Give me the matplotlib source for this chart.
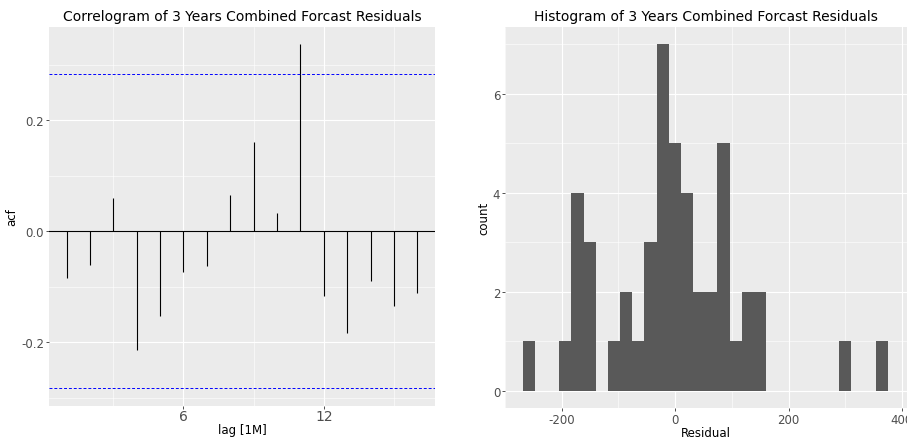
import numpy as np
import matplotlib.pyplot as plt
from matplotlib.ticker import FixedLocator

# ACF values for lags 1..16
lags = list(range(1, 17))
acf = [-0.085, -0.061, 0.060, -0.214, -0.153, -0.073, -0.063, 0.066,
       0.160, 0.032, 0.337, -0.117, -0.183, -0.089, -0.135, -0.112]
conf = 0.283  # 1.96 / sqrt(48)

# Histogram of residuals (30 bins)
bin_start = -268.6
bin_width = 21.46
counts = [1, 0, 0, 1, 4, 3, 0, 1, 2, 1, 3, 7, 5, 4, 2,
          2, 5, 1, 2, 2, 0, 0, 0, 0, 0, 0, 1, 0, 0, 1]

BG = "#EBEBEB"
TXT = "#4D4D4D"
plt.rcParams["axes.unicode_minus"] = False


def gg_style(ax):
    ax.set_facecolor(BG)
    for s in ax.spines.values():
        s.set_visible(False)
    ax.grid(which="major", color="white", lw=0.8)
    ax.grid(which="minor", color="white", lw=0.4)
    ax.set_axisbelow(True)
    ax.tick_params(which="major", length=2.5, width=0.6, color="#333333", labelcolor=TXT, labelsize=8.5, pad=1)
    ax.tick_params(which="minor", length=0)


fig = plt.figure(figsize=(9.07, 4.39), dpi=100)

# Correlogram
ax1 = fig.add_axes([0.054, 0.0729, 0.4256, 0.8633])
gg_style(ax1)
ax1.vlines(lags, 0, acf, color="black", lw=0.8)
ax1.axhline(0, color="black", lw=0.8)
ax1.axhline(conf, color="blue", lw=0.7, ls=(0, (3, 2)))
ax1.axhline(-conf, color="blue", lw=0.7, ls=(0, (3, 2)))
ax1.set_xlim(0.25, 16.75)
ax1.set_ylim(-0.315, 0.368)
ax1.set_xticks([6, 12])
ax1.xaxis.set_minor_locator(FixedLocator([3, 9, 15]))
ax1.set_yticks([-0.2, 0.0, 0.2])
ax1.yaxis.set_minor_locator(FixedLocator([-0.3, -0.1, 0.1, 0.3]))
ax1.tick_params(axis="x", labelsize=10, pad=0)
ax1.set_title("Correlogram of 3 Years Combined Forcast Residuals", fontsize=10, pad=5)
ax1.set_xlabel("lag [1M]", fontsize=8.5, labelpad=0)
ax1.set_ylabel("acf", fontsize=8.5, labelpad=2)

# Histogram
edges = bin_start + bin_width * np.arange(len(counts) + 1)
ax2 = fig.add_axes([0.5568, 0.0683, 0.4432, 0.868])
gg_style(ax2)
ax2.bar(edges[:-1], counts, width=bin_width, align="edge", color="#595959", lw=0)
ax2.set_xlim(-300, 409)
ax2.set_ylim(-0.35, 7.35)
ax2.set_xticks([-200, 0, 200, 400])
ax2.xaxis.set_minor_locator(FixedLocator([-300, -100, 100, 300]))
ax2.set_yticks([0, 2, 4, 6])
ax2.yaxis.set_minor_locator(FixedLocator([1, 3, 5, 7]))
ax2.set_title("Histogram of 3 Years Combined Forcast Residuals", fontsize=10, pad=5)
ax2.set_xlabel("Residual", fontsize=8.5, labelpad=0)
ax2.set_ylabel("count", fontsize=8.5, labelpad=2)

fig.savefig("out.png", dpi=100)
